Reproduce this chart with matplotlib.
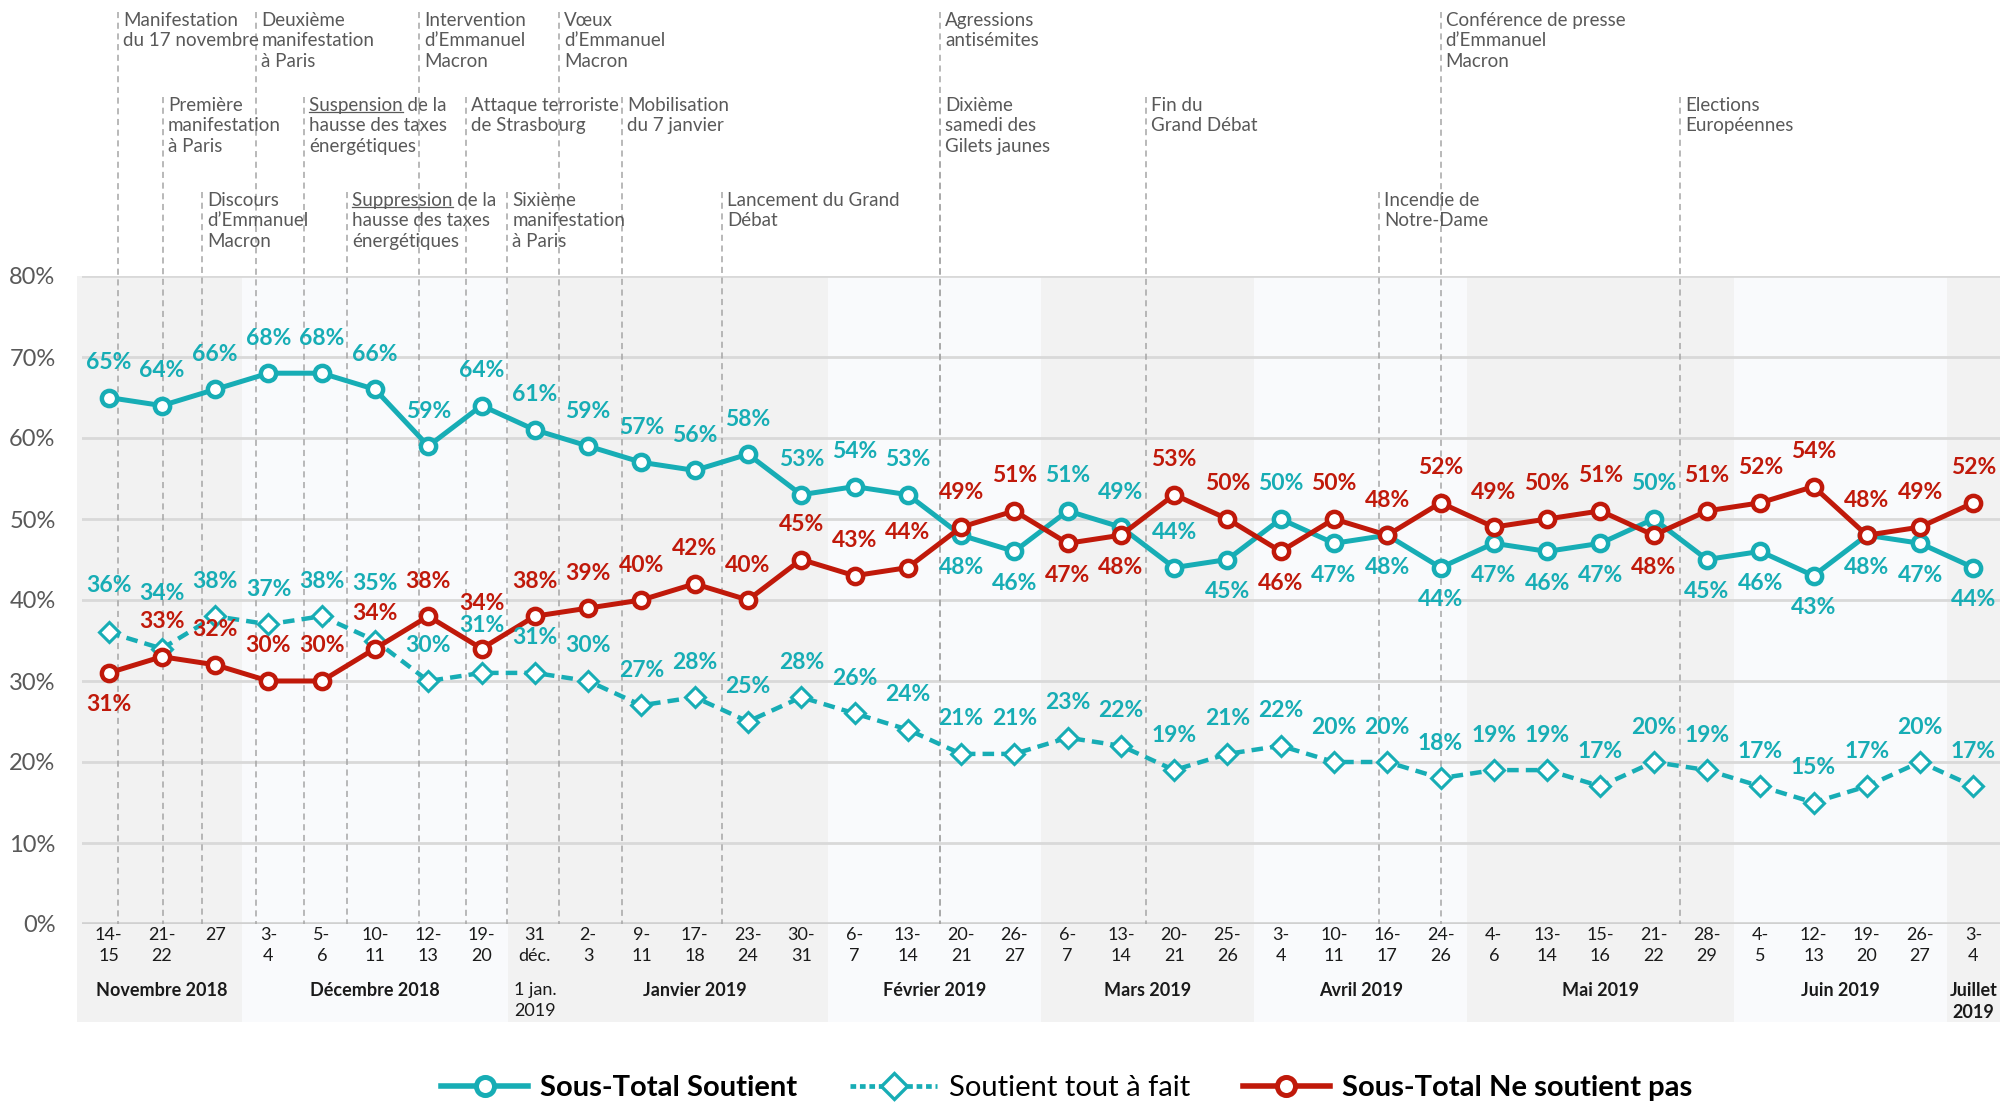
import numpy as np
import matplotlib.pyplot as plt
from matplotlib import transforms
from matplotlib.lines import Line2D

plt.rcParams['font.family'] = ['Lato', 'DejaVu Sans']

# vagues d'enquête (axe des catégories)
periodes = ["14-\n15", "21-\n22", "27", "3-\n4", "5-\n6", "10-\n11", "12-\n13", "19-\n20",
            "31\ndéc.", "2-\n3", "9-\n11", "17-\n18", "23-\n24", "30-\n31",
            "6-\n7", "13-\n14", "20-\n21", "26-\n27",
            "6-\n7", "13-\n14", "20-\n21", "25-\n26",
            "3-\n4", "10-\n11", "16-\n17", "24-\n26",
            "4-\n6", "13-\n14", "15-\n16", "21-\n22", "28-\n29",
            "4-\n5", "12-\n13", "19-\n20", "26-\n27", "3-\n4"]

soutient = [65, 64, 66, 68, 68, 66, 59, 64, 61, 59, 57, 56, 58, 53, 54, 53, 48, 46,
            51, 49, 44, 45, 50, 47, 48, 44, 47, 46, 47, 50, 45, 46, 43, 48, 47, 44]
tout_a_fait = [36, 34, 38, 37, 38, 35, 30, 31, 31, 30, 27, 28, 25, 28, 26, 24, 21, 21,
               23, 22, 19, 21, 22, 20, 20, 18, 19, 19, 17, 20, 19, 17, 15, 17, 20, 17]
ne_soutient_pas = [31, 33, 32, 30, 30, 34, 38, 34, 38, 39, 40, 42, 40, 45, 43, 44, 49, 51,
                   47, 48, 53, 50, 46, 50, 48, 52, 49, 50, 51, 48, 51, 52, 54, 48, 49, 52]

# groupes de mois : nom, premiere et derniere vague
mois = ["Novembre 2018", "Décembre 2018", "1 jan.\n2019", "Janvier 2019", "Février 2019",
        "Mars 2019", "Avril 2019", "Mai 2019", "Juin 2019", "Juillet\n2019"]
mois_debut = [0, 3, 8, 9, 14, 18, 22, 26, 31, 35]
mois_fin = [2, 7, 8, 13, 17, 21, 25, 30, 34, 35]

# evenements : texte, date sur l'axe des vagues, rangee
evenements = ["Manifestation\ndu 17 novembre", "Première\nmanifestation\nà Paris",
              "Discours\nd’Emmanuel\nMacron", "Deuxième\nmanifestation\nà Paris",
              "Suspension de la\nhausse des taxes\nénergétiques",
              "Suppression de la\nhausse des taxes\nénergétiques",
              "Intervention\nd’Emmanuel\nMacron", "Attaque terroriste\nde Strasbourg",
              "Sixième\nmanifestation\nà Paris", "Vœux\nd’Emmanuel\nMacron",
              "Mobilisation\ndu 7 janvier", "Lancement du Grand\nDébat",
              "Agressions\nantisémites", "Dixième\nsamedi des\nGilets jaunes",
              "Fin du\nGrand Débat", "Incendie de\nNotre-Dame",
              "Conférence de presse\nd’Emmanuel\nMacron", "Elections\nEuropéennes"]
evenements_date = [0.18, 1.02, 1.76, 2.77, 3.67, 4.48, 5.83, 6.71, 7.48, 8.46, 9.64,
                   11.52, 15.61, 15.61, 19.48, 23.84, 25.0, 29.5]
evenements_rang = [0, 1, 2, 0, 1, 2, 0, 1, 2, 0, 1, 2, 0, 1, 1, 2, 0, 1]
souligne = {4: "Suspension", 5: "Suppression"}

TEAL = '#17adb5'
ROUGE = '#c0190a'
GRIS = '#595959'
W, H = 2001, 1105


def etiquettes(ax, x, valeurs, couleur, dessous=(), decale=None):
    decale = decale or {}
    for i, v in zip(x, valeurs):
        dy = -32 if i in dessous else 35 + decale.get(i, 0)
        ax.annotate(f"{v}%", (i, v), xytext=(0, dy), textcoords='offset pixels',
                    ha='center', va='center', fontsize=16.5, fontweight='bold',
                    color=couleur, zorder=10)


def main():
    fig = plt.figure(figsize=(W / 100, H / 100), dpi=100)
    ax = fig.add_axes([82 / W, 1 - 924 / H, 1918 / W, 648 / H])
    x = np.arange(len(periodes))
    ax.set_xlim(-0.5, len(periodes) - 0.5)
    ax.set_ylim(0, 80)

    # bandes des mois
    fonce = True
    for k, (d, f) in enumerate(zip(mois_debut, mois_fin)):
        if k != 3:
            fonce = not fonce if k > 0 else True
        gauche = d - 0.6 if k == 0 else d - 0.5
        ax.axvspan(gauche, f + 0.5, ymin=(924 - 1022) / 648, ymax=1,
                   color='#f2f2f2' if fonce else '#f9fafc', lw=0, zorder=0, clip_on=False)

    ax.set_yticks(range(0, 81, 10))
    ax.set_yticklabels([f"{v}%" for v in range(0, 81, 10)])
    ax.yaxis.grid(True, color='#d9d9d9', lw=2)
    ax.set_axisbelow(True)
    for s in ax.spines.values():
        s.set_visible(False)
    ax.axhline(0, color='#d0d0d0', lw=2.6, zorder=0.6)
    ax.tick_params(axis='y', length=0, pad=19, labelsize=17, labelcolor=GRIS)
    ax.set_xticks(x)
    ax.set_xticklabels(periodes, fontsize=13, linespacing=1.35, color='#1a1a1a')
    ax.tick_params(axis='x', length=0, pad=2.5)

    trans = transforms.blended_transform_factory(ax.transData, fig.transFigure)
    for k, (nom, d, f) in enumerate(zip(mois, mois_debut, mois_fin)):
        ax.text((d + f) / 2, 1 - 982 / H, nom, transform=trans, ha='center', va='top',
                fontsize=13, linespacing=1.35, color='#1a1a1a',
                fontweight='normal' if k == 2 else 'bold')

    # courbes
    ax.plot(x, tout_a_fait, color=TEAL, lw=3.2, ls=(0, (2.6, 1.6)), marker='D', ms=10.5,
            mfc='white', mec=TEAL, mew=2.2, zorder=3)
    ax.plot(x, soutient, color=TEAL, lw=3.6, marker='o', ms=11, mfc='white',
            mec=TEAL, mew=3.2, zorder=4)
    ax.plot(x, ne_soutient_pas, color=ROUGE, lw=3.6, marker='o', ms=11, mfc='white',
            mec=ROUGE, mew=3.2, zorder=5)

    etiquettes(ax, x, soutient, TEAL,
               dessous=(16, 17, 21, 23, 24, 25, 26, 27, 28, 30, 31, 32, 33, 34, 35))
    etiquettes(ax, x, tout_a_fait, TEAL, decale={0: 12, 1: 20, 5: 22, 7: 12})
    etiquettes(ax, x, ne_soutient_pas, ROUGE, dessous=(0, 18, 19, 22, 29), decale={7: 10})

    # evenements
    hauts = [12, 97, 192]
    bas = 1 - 924 / H
    for txt, d, r in zip(evenements, evenements_date, evenements_rang):
        y = 1 - hauts[r] / H
        ax.plot([d, d], [y, bas], transform=trans, clip_on=False, color='#a6a6a6',
                lw=1.1, ls=(0, (4, 3)), zorder=1)
        ax.annotate(txt, (d, y), xycoords=trans, xytext=(5, 0),
                    textcoords='offset pixels', ha='left', va='top',
                    fontsize=13.5, linespacing=1.24, color=GRIS,
                    annotation_clip=False)

    fig.canvas.draw()
    rend = fig.canvas.get_renderer()
    for k, mot in souligne.items():
        t = ax.annotate(mot, (evenements_date[k], 1 - hauts[evenements_rang[k]] / H),
                        xycoords=trans, xytext=(5, 0), textcoords='offset pixels',
                        ha='left', va='top', fontsize=13.5, annotation_clip=False)
        bb = t.get_window_extent(rend)
        t.remove()
        yb = bb.y0 + 2.5
        p0 = fig.transFigure.inverted().transform((bb.x0, yb))
        p1 = fig.transFigure.inverted().transform((bb.x1, yb))
        fig.add_artist(Line2D([p0[0], p1[0]], [p0[1], p1[1]], color=GRIS, lw=0.9))

    poignees = [
        Line2D([], [], color=TEAL, lw=4, marker='o', ms=13, mfc='white', mec=TEAL, mew=3.6),
        Line2D([], [], color=TEAL, lw=3.4, ls=(0, (1.2, 0.8)), marker='D', ms=13,
               mfc='white', mec=TEAL, mew=2.4),
        Line2D([], [], color=ROUGE, lw=4, marker='o', ms=13, mfc='white', mec=ROUGE, mew=3.6),
    ]
    leg = fig.legend(poignees, ["Sous-Total Soutient", "Soutient tout à fait",
                                "Sous-Total Ne soutient pas"],
                     loc='center', bbox_to_anchor=(0.533, 1 - 1088 / H), ncol=3,
                     frameon=False, fontsize=21, handlelength=3.0, handletextpad=0.4,
                     columnspacing=1.8)
    for t, g in zip(leg.get_texts(), ['bold', 'normal', 'bold']):
        t.set_fontweight(g)

    fig.savefig("out.png", dpi=100)
    plt.close(fig)


if __name__ == "__main__":
    main()
